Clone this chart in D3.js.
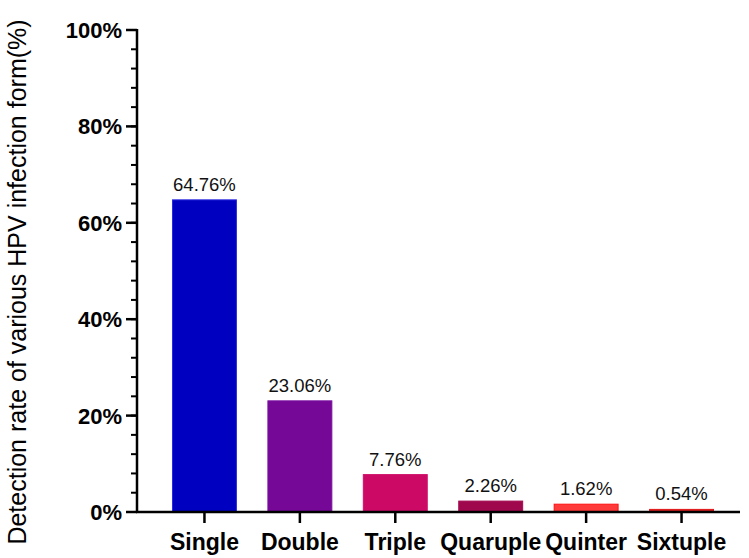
<!DOCTYPE html>
<html>
<head>
<meta charset="utf-8">
<script src="https://cdn.jsdelivr.net/npm/d3@7"></script>
<style>
  body { margin: 0; background: #fff; }
  svg { font-family: "Liberation Sans", Arial, sans-serif; }
</style>
</head>
<body>
<svg id="chart" width="749" height="558"></svg>
<script>
// data
var categories = ["Single", "Double", "Triple", "Quaruple", "Quinter", "Sixtuple"];
var rates = [64.76, 23.06, 7.76, 2.26, 1.62, 0.54];
var barColors = ["#0000C0", "#750896", "#CC0A66", "#A0084E", "#FF3A3A", "#E02020"];
var barStrokes = ["#2A2AE0", "#7A10A0", "#D0106A", "#A30A50", "#FF1010", "#E01818"];
var yTicks = [0, 20, 40, 60, 80, 100];

var svg = d3.select("#chart");
var plotLeft = 137, plotRight = 740, plotTop = 30, plotBottom = 512;

var x = d3.scaleBand()
    .domain(categories)
    .range([141, 745])
    .padding(0.33);

var y = d3.scaleLinear()
    .domain([0, 100])
    .range([plotBottom, plotTop]);

// bars
svg.append("g")
    .selectAll("rect")
    .data(categories)
    .enter().append("rect")
    .attr("x", function(d) { return x(d); })
    .attr("y", function(d, i) { return y(rates[i]); })
    .attr("width", x.bandwidth())
    .attr("height", function(d, i) { return plotBottom - y(rates[i]); })
    .attr("fill", function(d, i) { return barColors[i]; })
    .attr("stroke", function(d, i) { return barStrokes[i]; })
    .attr("stroke-width", 1);

// value labels
svg.append("g")
    .selectAll("text")
    .data(categories)
    .enter().append("text")
    .attr("x", function(d) { return x(d) + x.bandwidth() / 2; })
    .attr("y", function(d, i) { return y(rates[i]) - 9; })
    .attr("text-anchor", "middle")
    .style("font-size", "18.5px")
    .style("fill", "#111")
    .text(function(d, i) { return rates[i].toFixed(2) + "%"; });

// y axis: major ticks every 20, minor every 4
var yAxis = svg.append("g").attr("transform", "translate(" + plotLeft + ",0)");
yAxis.append("line")
    .attr("x1", 0).attr("x2", 0)
    .attr("y1", y(100) - 1).attr("y2", plotBottom + 1)
    .attr("stroke", "#000").attr("stroke-width", 2.5);
yAxis.selectAll(".minor")
    .data(d3.range(0, 101, 4))
    .enter().append("line")
    .attr("x1", -6).attr("x2", 0)
    .attr("y1", function(d) { return y(d); })
    .attr("y2", function(d) { return y(d); })
    .attr("stroke", "#000").attr("stroke-width", 2);
yAxis.selectAll(".major")
    .data(yTicks)
    .enter().append("line")
    .attr("x1", -11).attr("x2", 0)
    .attr("y1", function(d) { return y(d); })
    .attr("y2", function(d) { return y(d); })
    .attr("stroke", "#000").attr("stroke-width", 2.5);
yAxis.selectAll("text")
    .data(yTicks)
    .enter().append("text")
    .attr("x", -15)
    .attr("y", function(d) { return y(d); })
    .attr("dy", "0.36em")
    .attr("text-anchor", "end")
    .style("font-size", "22px")
    .style("font-weight", "bold")
    .text(function(d) { return d + "%"; });

// x axis
var xAxis = svg.append("g").attr("transform", "translate(0," + plotBottom + ")");
xAxis.append("line")
    .attr("x1", plotLeft - 1).attr("x2", plotRight)
    .attr("stroke", "#000").attr("stroke-width", 2.5);
xAxis.selectAll(".tick")
    .data(categories)
    .enter().append("line")
    .attr("x1", function(d) { return x(d) + x.bandwidth() / 2; })
    .attr("x2", function(d) { return x(d) + x.bandwidth() / 2; })
    .attr("y1", 0).attr("y2", 11)
    .attr("stroke", "#000").attr("stroke-width", 2.5);
xAxis.selectAll("text")
    .data(categories)
    .enter().append("text")
    .attr("x", function(d) { return x(d) + x.bandwidth() / 2; })
    .attr("y", 38)
    .attr("text-anchor", "middle")
    .style("font-size", "23px")
    .style("font-weight", "bold")
    .text(function(d) { return d; });

// y axis title
svg.append("text")
    .attr("transform", "translate(26," + 282 + ") rotate(-90)")
    .attr("text-anchor", "middle")
    .style("font-size", "25px")
    .text("Detection rate of various HPV infection form(%)");
</script>
</body>
</html>
